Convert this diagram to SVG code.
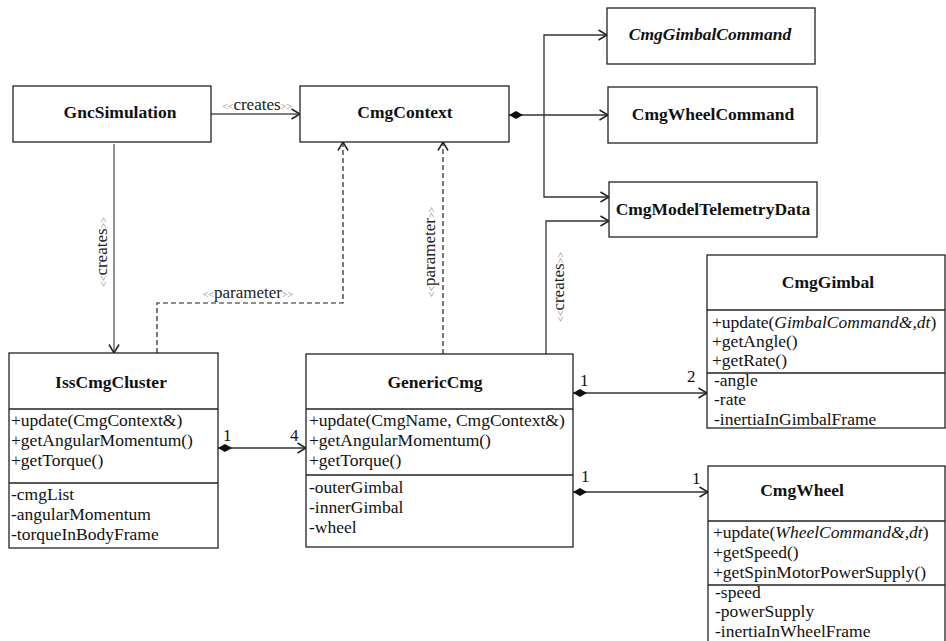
<svg xmlns="http://www.w3.org/2000/svg" width="946" height="641" viewBox="0 0 946 641">
<style>
.box{fill:#fff;stroke:#222;stroke-width:1.3}
.sep{stroke:#222;stroke-width:1.6}
.title{font-family:"Liberation Serif","Times New Roman",serif;font-weight:bold;font-size:17.5px;fill:#111;text-anchor:middle}
.mem{font-family:"Liberation Serif","Times New Roman",serif;font-size:17.5px;fill:#111}
.lbl{font-family:"Liberation Serif","Times New Roman",serif;font-size:17px;fill:#222;text-anchor:middle}
.st{font-size:10px;fill:#777}
.mult{font-family:"Liberation Serif","Times New Roman",serif;font-size:17px;fill:#111}
.ln{fill:none;stroke:#333;stroke-width:1.3}
.gl{fill:none;stroke:#555;stroke-width:1.3}
.dash{fill:none;stroke:#222;stroke-width:1.2;stroke-dasharray:5,3}
</style>
<defs>
<marker id="open" viewBox="0 0 10 12" refX="9.5" refY="6" markerWidth="10" markerHeight="12" markerUnits="userSpaceOnUse" orient="auto">
<path d="M1,1 L9.5,6 L1,11" fill="none" stroke="#222" stroke-width="1.5"/>
</marker>
<marker id="dia" viewBox="0 0 14 8" refX="0" refY="4" markerWidth="14" markerHeight="8" markerUnits="userSpaceOnUse" orient="auto">
<path d="M0,4 L7,0 L14,4 L7,8 Z" fill="#111"/>
</marker>
</defs>

<g id="connectors">
<path class="gl" d="M211,114 L300,114" marker-end="url(#open)"/>
<text class="lbl" x="257" y="110"><tspan class="st">&lt;&lt;</tspan>creates<tspan class="st">&gt;&gt;</tspan></text>
<path class="gl" d="M114,144 L114,353" marker-end="url(#open)"/>
<text class="lbl" transform="translate(107,252) rotate(-90)"><tspan class="st">&lt;&lt;</tspan>creates<tspan class="st">&gt;&gt;</tspan></text>
<path class="dash" d="M157,353 L157,303 L343,303 L343,142" marker-end="url(#open)"/>
<text class="lbl" x="248" y="298"><tspan class="st">&lt;&lt;</tspan>parameter<tspan class="st">&gt;&gt;</tspan></text>
<path class="dash" d="M443,354 L443,142" marker-end="url(#open)"/>
<text class="lbl" transform="translate(435,252) rotate(-90)"><tspan class="st">&lt;&lt;</tspan>parameter<tspan class="st">&gt;&gt;</tspan></text>
<path class="ln" d="M509,115 L608,115" marker-start="url(#dia)" marker-end="url(#open)"/>
<path class="ln" d="M544,115 L544,35 L607,35" marker-end="url(#open)"/>
<path class="ln" d="M544,115 L544,197 L609,197" marker-end="url(#open)"/>
<path class="ln" d="M546,354 L546,221 L609,221" marker-end="url(#open)"/>
<text class="lbl" transform="translate(564,287) rotate(-90)"><tspan class="st">&lt;&lt;</tspan>creates<tspan class="st">&gt;&gt;</tspan></text>
<path class="ln" d="M218,448 L306,448" marker-start="url(#dia)" marker-end="url(#open)"/>
<text class="mult" x="223" y="441">1</text>
<text class="mult" x="290" y="441">4</text>
<path class="ln" d="M573,393 L707,393" marker-start="url(#dia)" marker-end="url(#open)"/>
<text class="mult" x="580" y="386">1</text>
<text class="mult" x="687" y="382">2</text>
<path class="ln" d="M573,492 L708,492" marker-start="url(#dia)" marker-end="url(#open)"/>
<text class="mult" x="581" y="482">1</text>
<text class="mult" x="692" y="484">1</text>
</g>

<g id="GncSimulation">
<rect class="box" x="13" y="86" width="198" height="56"/>
<text class="title" x="120" y="118">GncSimulation</text>
</g>

<g id="CmgContext">
<rect class="box" x="300" y="86" width="209" height="56"/>
<text class="title" x="405" y="118">CmgContext</text>
</g>

<g id="CmgGimbalCommand">
<rect class="box" x="607" y="8" width="208" height="56"/>
<text class="title" x="710" y="40" font-style="italic">CmgGimbalCommand</text>
</g>

<g id="CmgWheelCommand">
<rect class="box" x="608" y="87" width="209" height="56"/>
<text class="title" x="713" y="120">CmgWheelCommand</text>
</g>

<g id="CmgModelTelemetryData">
<rect class="box" x="609" y="182" width="208" height="55"/>
<text class="title" x="713" y="215">CmgModelTelemetryData</text>
</g>

<g id="IssCmgCluster">
<rect class="box" x="9" y="353" width="209" height="195"/>
<line class="sep" x1="9" y1="409" x2="218" y2="409"/>
<line class="sep" x1="9" y1="483" x2="218" y2="483"/>
<text class="title" x="111" y="388">IssCmgCluster</text>
<text class="mem" x="11" y="426">+update(CmgContext&amp;)</text>
<text class="mem" x="11" y="446">+getAngularMomentum()</text>
<text class="mem" x="11" y="466">+getTorque()</text>
<text class="mem" x="11" y="500">-cmgList</text>
<text class="mem" x="11" y="520">-angularMomentum</text>
<text class="mem" x="11" y="540">-torqueInBodyFrame</text>
</g>

<g id="GenericCmg">
<rect class="box" x="306" y="354" width="267" height="193"/>
<line class="sep" x1="306" y1="409" x2="573" y2="409"/>
<line class="sep" x1="306" y1="475" x2="573" y2="475"/>
<text class="title" x="435" y="388">GenericCmg</text>
<text class="mem" x="309" y="426">+update(CmgName, CmgContext&amp;)</text>
<text class="mem" x="309" y="446">+getAngularMomentum()</text>
<text class="mem" x="309" y="466">+getTorque()</text>
<text class="mem" x="309" y="493">-outerGimbal</text>
<text class="mem" x="309" y="513">-innerGimbal</text>
<text class="mem" x="309" y="533">-wheel</text>
</g>

<g id="CmgGimbal">
<rect class="box" x="707" y="255" width="238" height="173"/>
<line class="sep" x1="707" y1="310" x2="945" y2="310"/>
<line class="sep" x1="707" y1="373" x2="945" y2="373"/>
<text class="title" x="828" y="288">CmgGimbal</text>
<text class="mem" x="712" y="328">+update(<tspan font-style="italic">GimbalCommand&amp;,dt</tspan>)</text>
<text class="mem" x="712" y="347">+getAngle()</text>
<text class="mem" x="712" y="366">+getRate()</text>
<text class="mem" x="714" y="386">-angle</text>
<text class="mem" x="714" y="405">-rate</text>
<text class="mem" x="714" y="425">-inertiaInGimbalFrame</text>
</g>

<g id="CmgWheel">
<rect class="box" x="708" y="466" width="237" height="180"/>
<line class="sep" x1="708" y1="521" x2="945" y2="521"/>
<line class="sep" x1="708" y1="585" x2="945" y2="585"/>
<text class="title" x="802" y="496">CmgWheel</text>
<text class="mem" x="713" y="538">+update(<tspan font-style="italic">WheelCommand&amp;,dt</tspan>)</text>
<text class="mem" x="713" y="558">+getSpeed()</text>
<text class="mem" x="713" y="578">+getSpinMotorPowerSupply()</text>
<text class="mem" x="715" y="598">-speed</text>
<text class="mem" x="715" y="617">-powerSupply</text>
<text class="mem" x="715" y="637">-inertiaInWheelFrame</text>
</g>
</svg>
